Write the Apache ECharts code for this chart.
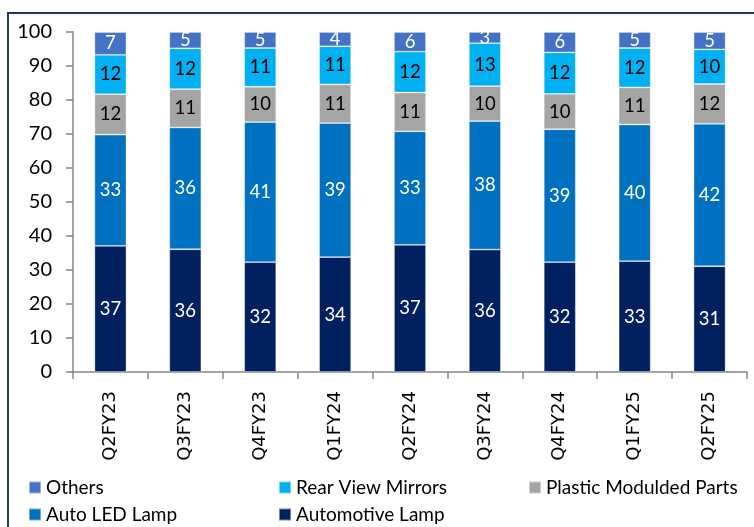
<!DOCTYPE html>
<html>
<head>
<meta charset="utf-8">
<script src="https://cdn.jsdelivr.net/npm/echarts@6/dist/echarts.min.js"></script>
<style>html,body{margin:0;padding:0;background:#fff;}#c{width:754px;height:527px;}</style>
</head>
<body>
<div id="c"></div>
<script>
const categories = ['Q2FY23','Q3FY23','Q4FY23','Q1FY24','Q2FY24','Q3FY24','Q4FY24','Q1FY25','Q2FY25'];
const automotiveLamp = [37.1, 36.1, 32.3, 33.8, 37.4, 36.0, 32.3, 32.6, 31.1];
const autoLedLamp    = [32.7, 35.8, 41.2, 39.4, 33.4, 37.8, 39.1, 40.2, 41.9];
const plasticParts   = [11.9, 11.3, 10.4, 11.4, 11.4, 10.3, 10.4, 10.9, 11.7];
const rearMirrors    = [11.6, 12.0, 11.4, 11.2, 12.0, 12.6, 12.2, 11.6, 10.2];
const others         = [6.7, 4.8, 4.7, 4.2, 5.8, 3.3, 6.0, 4.7, 5.1];
const yTicks = [0,10,20,30,40,50,60,70,80,90,100];

const chart = echarts.init(document.getElementById('c'));
const labelFont = 'Lato, "Noto Sans", sans-serif';
function mk(name, data, color, labelColor) {
  return {
    name: name, type: 'bar', stack: 'total', data: data, barWidth: 32,
    itemStyle: { color: color, borderColor: 'rgba(255,255,255,0.45)', borderWidth: 0.8 },
    label: { show: true, position: 'inside', color: labelColor, fontFamily: labelFont, fontSize: 18.5,
      formatter: p => Math.round(p.value) },
    emphasis: { disabled: true }
  };
}
const legendBase = { icon: 'rect', itemWidth: 12, itemHeight: 12, itemGap: 6, padding: 0,
  textStyle: { fontFamily: labelFont, fontSize: 19, color: '#000' } };
chart.setOption({
  animation: false,
  grid: { left: 73, right: 7, top: 32, bottom: 155, containLabel: false },
  graphic: [{ type: 'rect', shape: { x: 8, y: 13, width: 800, height: 600 },
    style: { fill: 'none', stroke: '#1F3864', lineWidth: 2 } }],
  legend: [
    Object.assign({ data: ['Others'], left: 28, top: 478 }, legendBase),
    Object.assign({ data: ['Rear View Mirrors'], left: 278, top: 478 }, legendBase),
    Object.assign({ data: ['Plastic Modulded Parts'], left: 528, top: 478 }, legendBase),
    Object.assign({ data: ['Auto LED Lamp'], left: 28, top: 505 }, legendBase),
    Object.assign({ data: ['Automotive Lamp'], left: 278, top: 505 }, legendBase)
  ],
  xAxis: {
    type: 'category', data: categories,
    axisLine: { lineStyle: { color: '#868686', width: 1.5 } },
    axisTick: { show: true, length: 7, lineStyle: { color: '#868686', width: 1.5 } },
    axisLabel: { rotate: 90, margin: 19, color: '#000', fontFamily: '"DejaVu Sans", Verdana, sans-serif', fontSize: 18 }
  },
  yAxis: {
    type: 'value', min: 0, max: 100, interval: 10,
    splitLine: { show: false },
    axisLine: { show: true, lineStyle: { color: '#868686', width: 1.5 } },
    axisTick: { show: true, length: 7, lineStyle: { color: '#868686', width: 1.5 } },
    axisLabel: { margin: 21, color: '#000', fontFamily: labelFont, fontSize: 20,
      formatter: v => yTicks.indexOf(v) >= 0 ? String(v) : '' }
  },
  series: [
    mk('Automotive Lamp', automotiveLamp, '#002060', '#fff'),
    mk('Auto LED Lamp', autoLedLamp, '#0070C0', '#fff'),
    mk('Plastic Modulded Parts', plasticParts, '#A5A5A5', '#000'),
    mk('Rear View Mirrors', rearMirrors, '#00B0F0', '#000'),
    mk('Others', others, '#4472C4', '#fff')
  ]
});
</script>
</body>
</html>
